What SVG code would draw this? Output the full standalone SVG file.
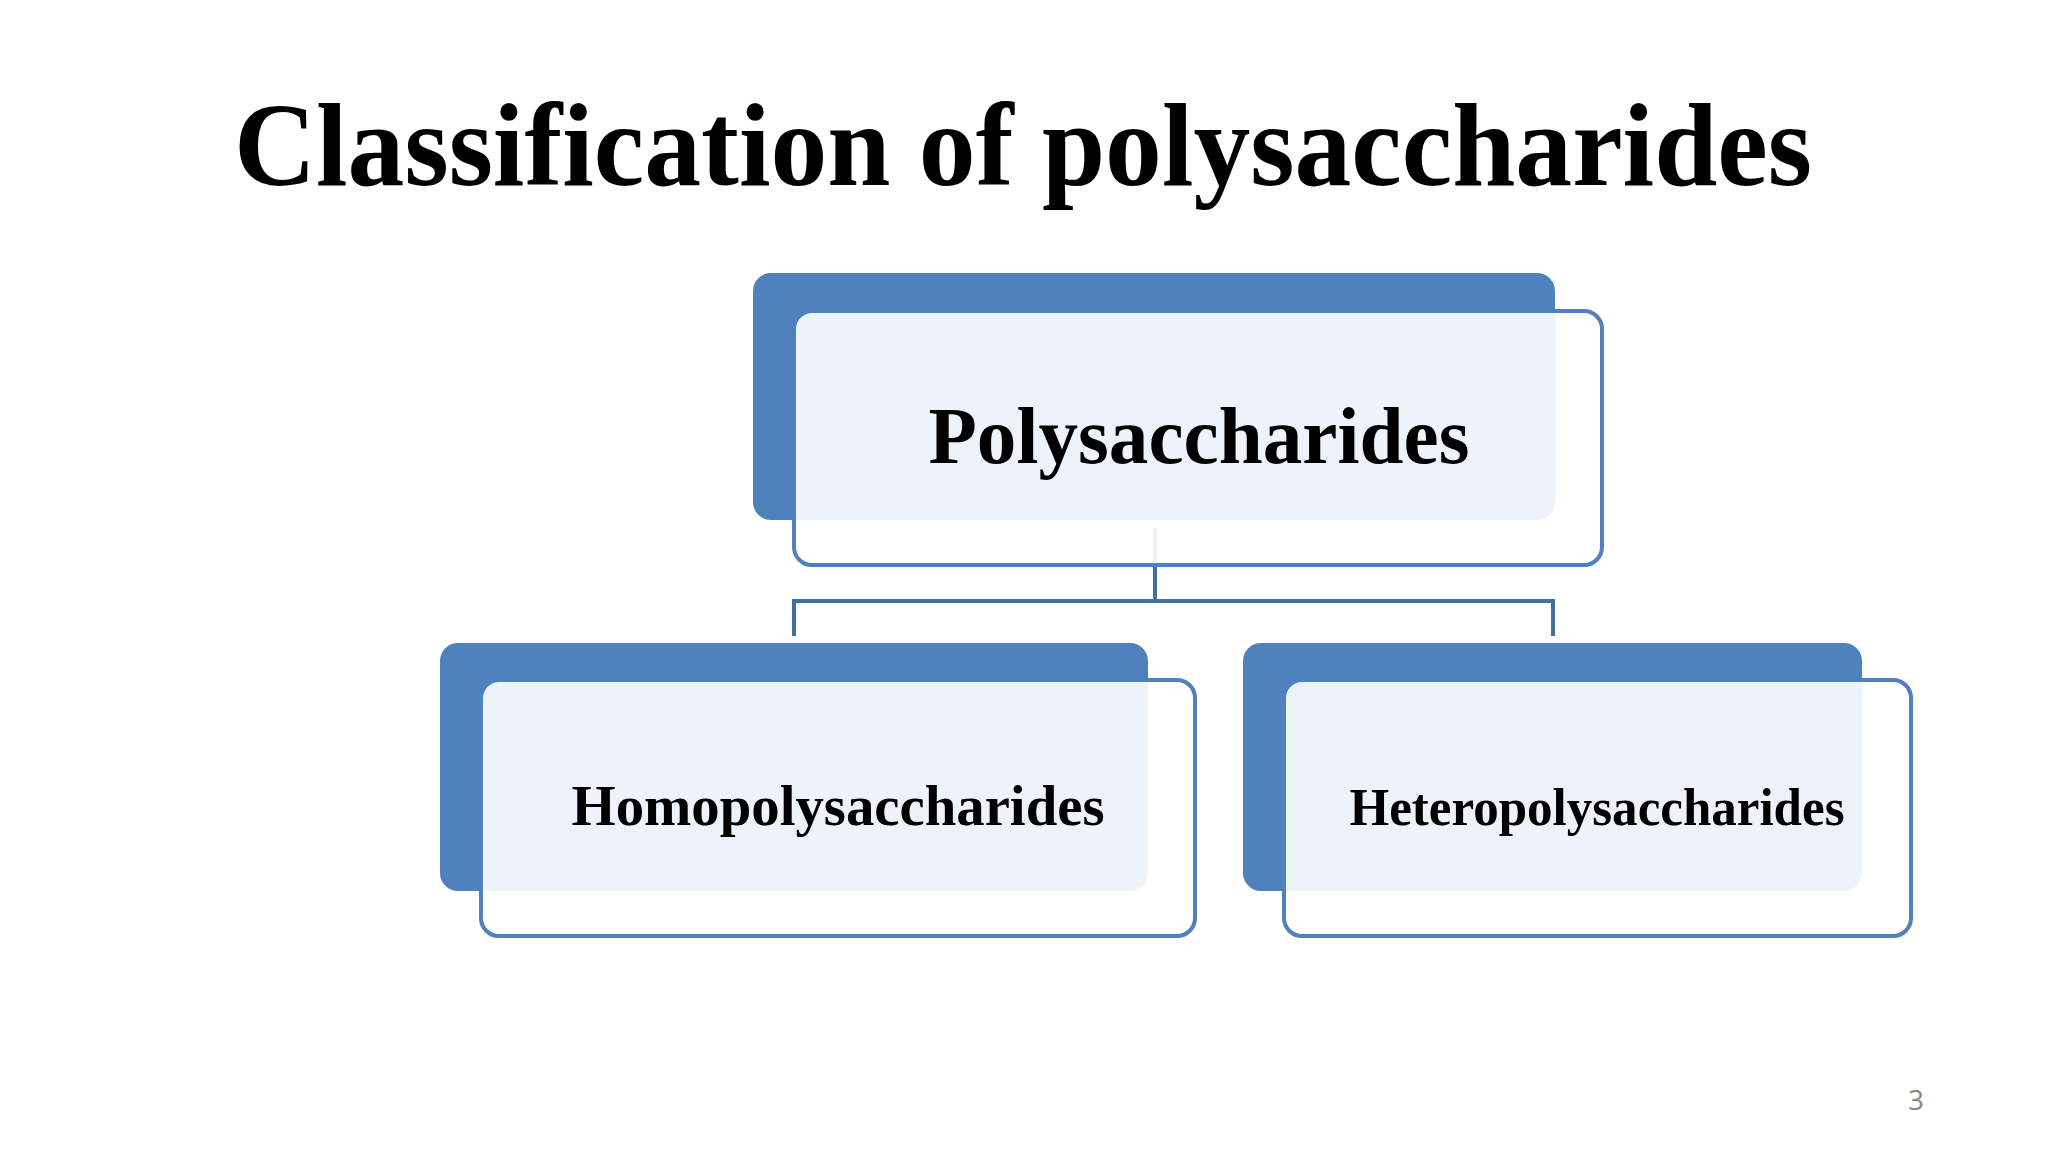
<svg xmlns="http://www.w3.org/2000/svg" width="2048" height="1152" viewBox="0 0 2048 1152">
<style>
.back{fill:#4F81BD}
.front{fill:#fff;fill-opacity:0.9;stroke:#4F81BD;stroke-width:4}
.t{font-family:"Liberation Serif",serif;font-weight:bold;fill:#000;text-anchor:middle}
.conn{fill:none;stroke:#41719C;stroke-width:4}
</style>
<rect width="2048" height="1152" fill="#fff"/>
<text class="t" x="1023" y="185" font-size="118" textLength="1578" lengthAdjust="spacingAndGlyphs">Classification of polysaccharides</text>
<g id="connectors">
<path class="conn" d="M1155 528V601M794 636V601H1553V636"/>
</g>
<g id="polysaccharides">
<rect class="back" x="753" y="273" width="802" height="247" rx="18"/>
<rect class="front" x="794" y="311" width="808" height="254" rx="18"/>
<text class="t" x="1199" y="463" font-size="80" textLength="541" lengthAdjust="spacingAndGlyphs">Polysaccharides</text>
</g>
<g id="homo">
<rect class="back" x="440" y="643" width="708" height="248" rx="18"/>
<rect class="front" x="481" y="680" width="714" height="256" rx="18"/>
<text class="t" x="838" y="825" font-size="56" textLength="533" lengthAdjust="spacingAndGlyphs">Homopolysaccharides</text>
</g>
<g id="hetero">
<rect class="back" x="1243" y="643" width="619" height="248" rx="18"/>
<rect class="front" x="1284" y="680" width="627" height="256" rx="18"/>
<text class="t" x="1597" y="825" font-size="52" textLength="495" lengthAdjust="spacingAndGlyphs">Heteropolysaccharides</text>
</g>
<text x="1916" y="1110" font-family="'Open Sans',sans-serif" font-size="28" fill="#888" text-anchor="middle">3</text>
</svg>
